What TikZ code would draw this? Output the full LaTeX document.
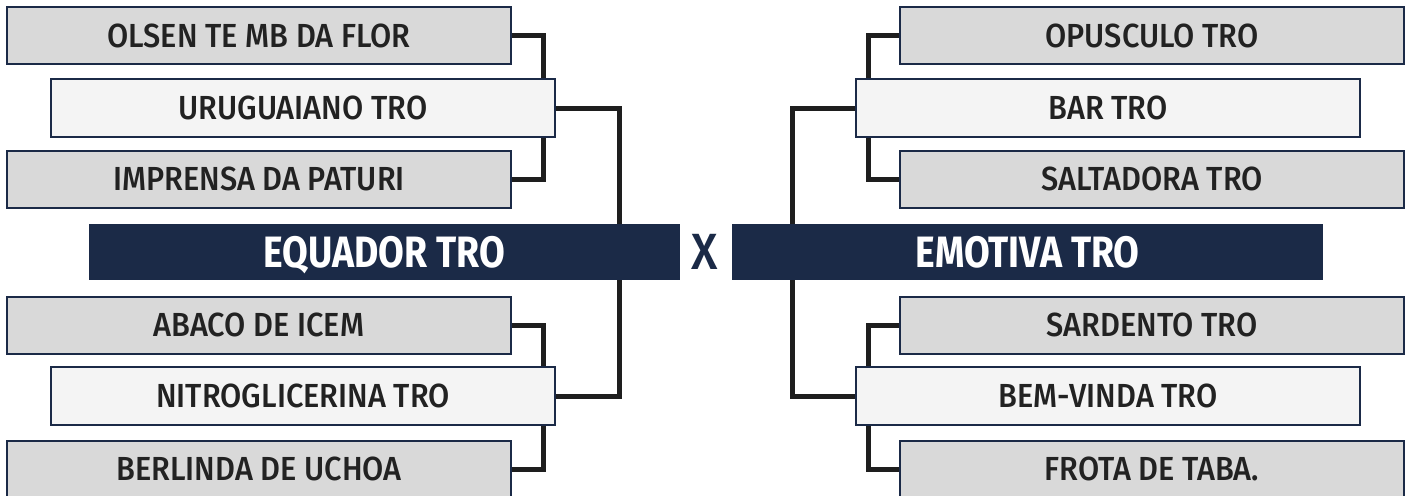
\documentclass[tikz,border=0pt]{standalone}
\usepackage{fontspec}
\setmainfont{Fira Sans}
\newfontfamily\clubefont{Fira Sans Medium}[FakeStretch=0.92]
\newfontfamily\finalfont{Fira Sans}[FakeStretch=0.85]
\usetikzlibrary{backgrounds}
\definecolor{marinho}{HTML}{1B2A47}
\definecolor{cinza}{HTML}{D9D9D9}
\definecolor{claro}{HTML}{F4F4F4}
\definecolor{traco}{HTML}{1E1E1E}
\definecolor{texto}{HTML}{222222}
\tikzset{%
		clube/.style={draw=marinho,line width=.4mm,fill=cinza,minimum width=100.8mm,minimum height=11.4mm,inner sep=0pt,text depth=0pt,text=texto,font=\clubefont\fontsize{19}{19}\selectfont},
		vencedor/.style={clube,fill=claro,minimum height=11.6mm},
		finalista/.style={fill=marinho,minimum width=118.2mm,minimum height=11.2mm,inner sep=0pt,text depth=0pt,text=white,font=\finalfont\bfseries\fontsize{25}{25}\selectfont},
		chave/.style={draw=traco,line width=1mm}
	}

\begin{document}
\begin{tikzpicture}[x=.2mm,y=-.2mm]
    \useasboundingbox (0,0) rectangle (1410,495);
    % lado esquerdo
    \node[clube] (olsen) at (259,35.5) {OLSEN TE MB DA FLOR};
    \node[vencedor] (uruguaiano) at (303,108) {URUGUAIANO TRO};
    \node[clube] (imprensa) at (259,179) {IMPRENSA DA PATURI};
    \node[finalista] (equador) at (384.5,252) {EQUADOR TRO};
    \node[clube] (abaco) at (259,325) {ABACO DE ICEM};
    \node[vencedor] (nitro) at (303,396) {NITROGLICERINA TRO};
    \node[clube] (berlinda) at (259,469) {BERLINDA DE UCHOA};
    \node[text=marinho,inner sep=0pt,font=\clubefont\fontsize{29}{29}\selectfont] (versus) at (705,252) {X};
    % lado direito
    \node[clube] (opusculo) at (1152,35.5) {OPUSCULO TRO};
    \node[vencedor] (bar) at (1108,108) {BAR TRO};
    \node[clube] (saltadora) at (1152,179) {SALTADORA TRO};
    \node[finalista] (emotiva) at (1027.5,252) {EMOTIVA TRO};
    \node[clube] (sardento) at (1152,325) {SARDENTO TRO};
    \node[vencedor] (bemvinda) at (1108,396) {BEM-VINDA TRO};
    \node[clube] (frota) at (1152,469) {FROTA DE TABA.};
    \begin{pgfonlayer}{background}
        \draw[chave] (olsen.east) -- ++(31,0) |- (imprensa.east);
        \draw[chave] (abaco.east) -- ++(31,0) |- (berlinda.east);
        \draw[chave] (uruguaiano.east) -- ++(63,0) |- (nitro.east);
        \draw[chave] (opusculo.west) -- ++(-31,0) |- (saltadora.west);
        \draw[chave] (sardento.west) -- ++(-31,0) |- (frota.west);
        \draw[chave] (bar.west) -- ++(-63,0) |- (bemvinda.west);
    \end{pgfonlayer}
\end{tikzpicture}
\end{document}
